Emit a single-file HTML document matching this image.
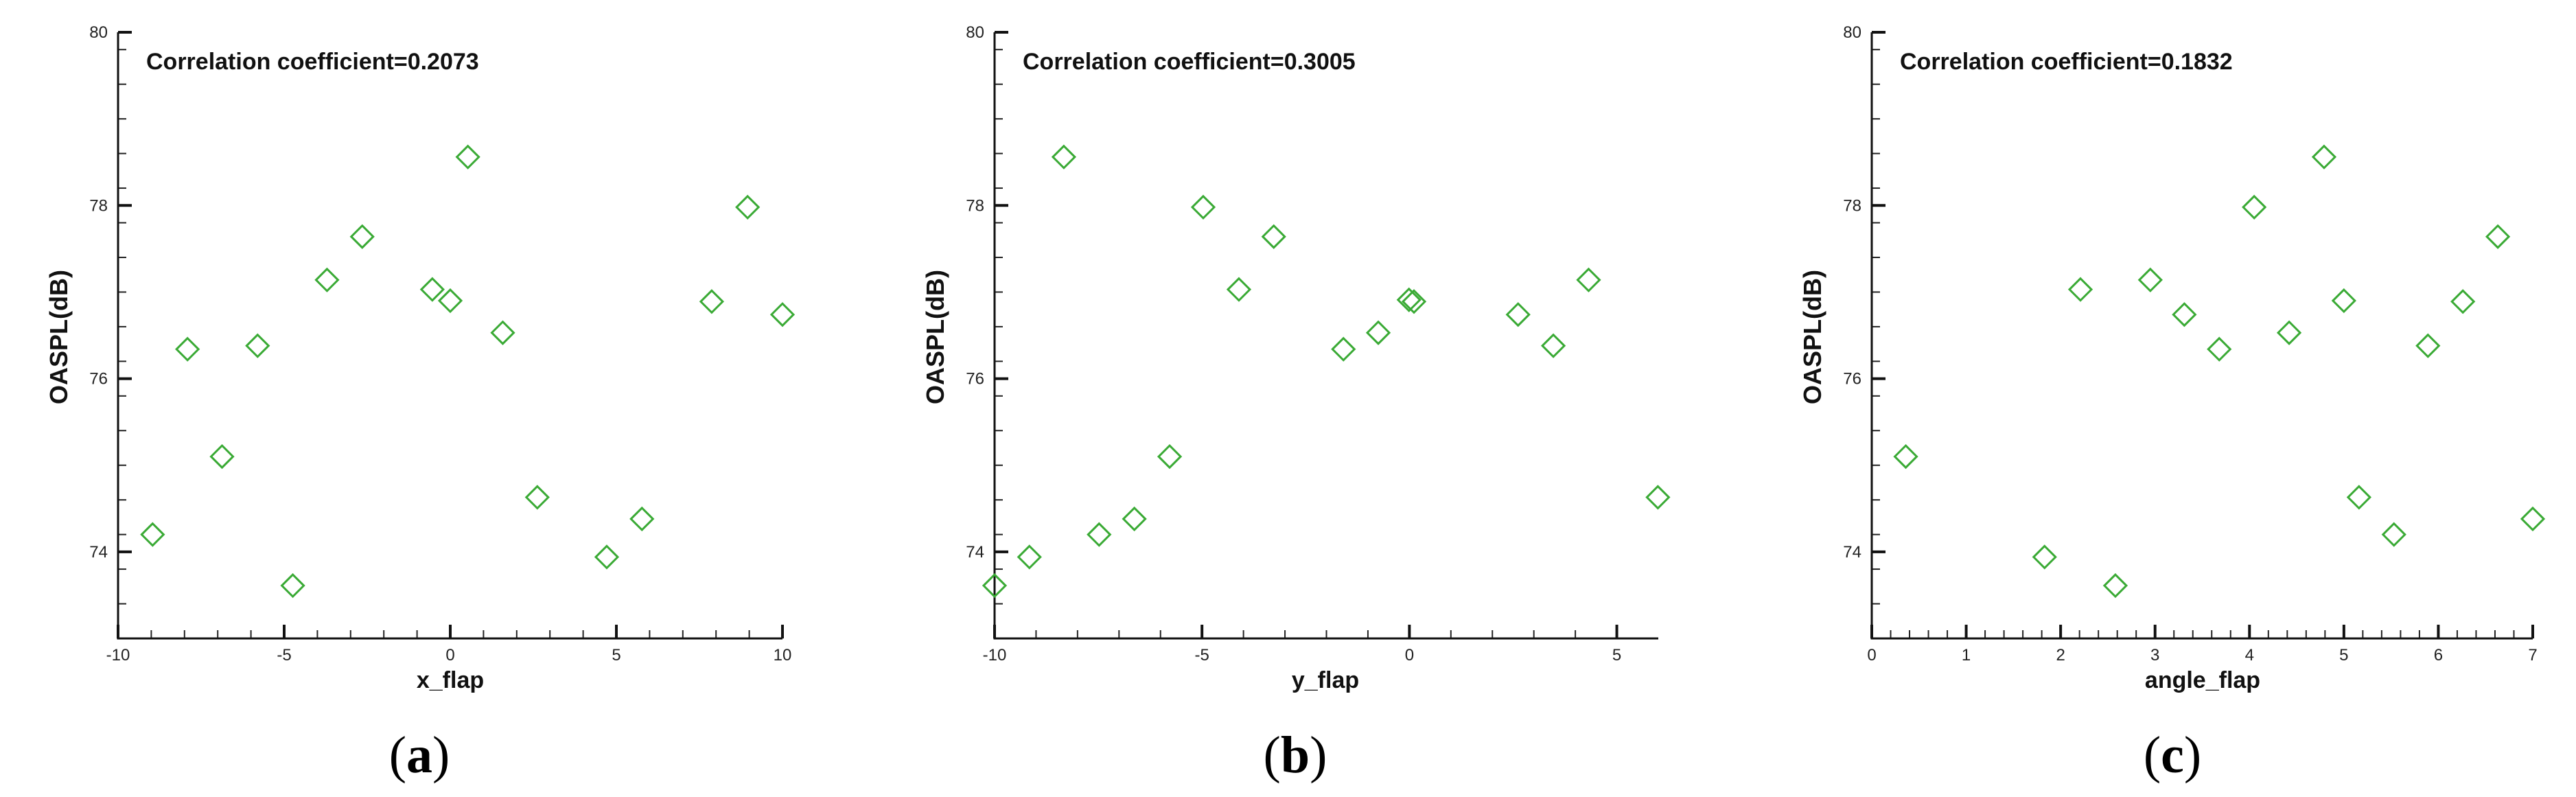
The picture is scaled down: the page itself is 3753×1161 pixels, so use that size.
<!DOCTYPE html>
<html><head><meta charset="utf-8"><style>
html,body{margin:0;padding:0;background:#fff;}
svg{display:block;}
</style></head><body>
<svg id="fig" width="3753" height="1161" viewBox="0 0 3753 1161" xmlns="http://www.w3.org/2000/svg"></svg>
<script>
const yVals=[74.20,76.34,75.10,76.38,73.61,77.14,77.64,77.03,76.90,78.56,76.53,74.63,73.94,74.38,76.89,77.98,76.74];
const xFlap=[-8.96,-7.91,-6.87,-5.80,-4.74,-3.71,-2.65,-0.54,0.0,0.53,1.58,2.62,4.71,5.77,7.87,8.95,10.0];
const yFlapX=[-10.0,-9.16,-8.33,-7.48,-6.63,-5.78,-4.97,-4.11,-3.27,-1.59,-0.75,-0.01,0.11,2.62,3.47,4.32,5.99];
const yFlapY=[73.61,73.94,78.56,74.20,74.38,75.10,77.98,77.03,77.64,76.34,76.53,76.91,76.89,76.74,76.38,77.14,74.63];
const angX=[0.36,1.83,2.21,2.58,2.95,3.31,3.68,4.05,4.42,4.79,5.00,5.16,5.53,5.89,6.26,6.63,7.0];
const angY=[75.10,73.94,77.03,73.61,77.14,76.74,76.34,77.98,76.53,78.56,76.90,74.63,74.20,76.38,76.89,77.64,74.38];
const yTicks=[74,76,78,80];
const xTicksA=[-10,-5,0,5,10];
const xTicksB=[-10,-5,0,5];
const xTicksC=[0,1,2,3,4,5,6,7];
const corrs=["0.2073","0.3005","0.1832"];

const NS="http://www.w3.org/2000/svg";
const svg=document.getElementById('fig');
function mk(tag,attrs,parent){const e=document.createElementNS(NS,tag);for(const k in attrs)e.setAttribute(k,attrs[k]);(parent||svg).appendChild(e);return e;}

function panel(p){
  const g=mk('g',{});
  
  
  const top=47,bot=930,ymin=73,ymax=80;
  const sx=v=>p.x0+(v-p.xmin)/(p.xmax-p.xmin)*(p.x1-p.x0);
  const sy=v=>bot-(v-ymin)/(ymax-ymin)*(bot-top);
  // minor y ticks
  for(let v=73.4;v<80;v+=0.4){const y=sy(v);const t=mk('line',{x1:p.x0,x2:p.x0+12,y1:y,y2:y,stroke:'#222','stroke-width':2},g);}
  // minor x ticks
  for(let v=p.xmin+p.minor;v<p.xmax-1e-6;v+=p.minor){const x=sx(v);const t=mk('line',{x1:x,x2:x,y1:bot,y2:bot-12,stroke:'#222','stroke-width':2},g);}
  // axes
  const ax=mk('path',{d:`M${p.x0} ${top}V${bot}H${p.x1}`,fill:'none',stroke:'#111','stroke-width':3},g);
  
  yTicks.forEach(v=>{const y=sy(v);
    const t=mk('line',{x1:p.x0,x2:p.x0+20,y1:y,y2:y,stroke:'#111','stroke-width':4},g);
    const l=mk('text',{x:p.x0-15,y:y+8,'text-anchor':'end','font-family':'Liberation Sans, sans-serif','font-size':24,fill:'#222'},g);l.textContent=v;});
  p.ticks.forEach(v=>{const x=sx(v);
    const t=mk('line',{x1:x,x2:x,y1:bot,y2:bot-20,stroke:'#111','stroke-width':4},g);
    const l=mk('text',{x:x,y:962,'text-anchor':'middle','font-family':'Liberation Sans, sans-serif','font-size':24,fill:'#222'},g);l.textContent=v;});
  const ct=mk('text',{x:p.x0+41,y:101,'font-family':'Liberation Sans, sans-serif','font-size':34,'font-weight':'bold',fill:'#111'},g);
  ct.textContent='Correlation coefficient='+p.corr;
  const xt=mk('text',{x:p.xtx,y:1002,'text-anchor':'middle','font-family':'Liberation Sans, sans-serif','font-size':34,'font-weight':'bold',fill:'#111'},g);
  xt.textContent=p.xlabel;
  const yt=mk('text',{x:0,y:0,'text-anchor':'middle','font-family':'Liberation Sans, sans-serif','font-size':36,'font-weight':'bold',fill:'#111',transform:`translate(${p.x0-74},491) rotate(-90)`},g);
  yt.textContent='OASPL(dB)';
  const cap=mk('text',{x:p.capx,y:1125,'text-anchor':'middle','font-family':'Liberation Serif, serif','font-size':76,fill:'#000'},g);
  cap.innerHTML='(<tspan font-weight="bold">'+p.id+'</tspan>)';
  p.xs.forEach((xv,i)=>{const x=sx(xv),y=sy(p.ys[i]),r=16;
    const m=mk('path',{d:`M${x} ${y-r}L${x+r} ${y}L${x} ${y+r}L${x-r} ${y}Z`,fill:'none',stroke:'#3aaa35','stroke-width':3},g);
    });
}
panel({id:'a',x0:172,x1:1140,xmin:-10,xmax:10,minor:1,ticks:xTicksA,xs:xFlap,ys:yVals,corr:corrs[0],xlabel:'x_flap',xtx:656,capx:611});
panel({id:'b',x0:1449,x1:2416,xmin:-10,xmax:6,minor:1,ticks:xTicksB,xs:yFlapX,ys:yFlapY,corr:corrs[1],xlabel:'y_flap',xtx:1931,capx:1887});
panel({id:'c',x0:2727,x1:3690,xmin:0,xmax:7,minor:0.2,ticks:xTicksC,xs:angX,ys:angY,corr:corrs[2],xlabel:'angle_flap',xtx:3209,capx:3165});
</script>
</body></html>
